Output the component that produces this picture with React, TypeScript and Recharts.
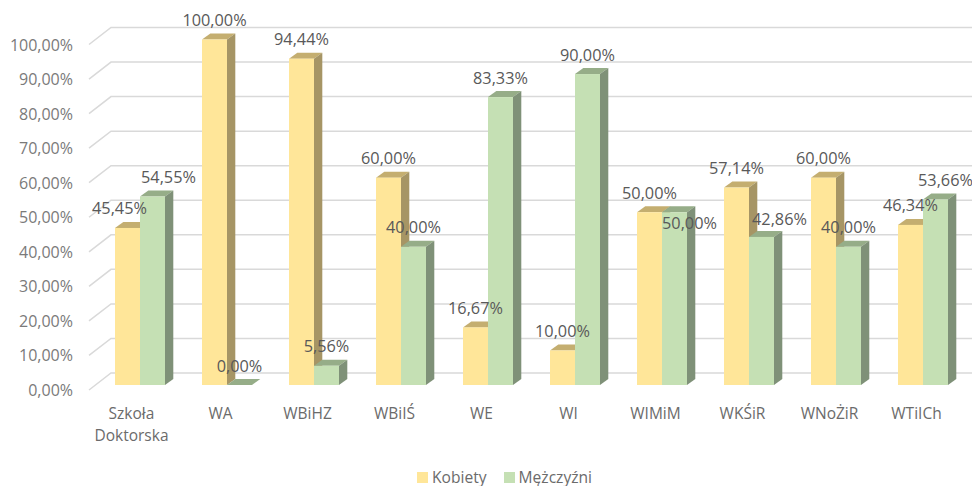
import React from 'react';
import { BarChart, Bar, XAxis, YAxis, CartesianGrid, Legend, LabelList } from 'recharts';

const categories = ['Szkoła Doktorska', 'WA', 'WBiHZ', 'WBiIŚ', 'WE', 'WI', 'WIMiM', 'WKŚiR', 'WNoŻiR', 'WTiICh'];
const kobiety = [45.45, 100, 94.44, 60, 16.67, 10, 50, 57.14, 60, 46.34];
const mezczyzni = [54.55, 0, 5.56, 40, 83.33, 90, 50, 42.86, 40, 53.66];
const yTicks = [0, 10, 20, 30, 40, 50, 60, 70, 80, 90, 100];

// excel moved a few labels sideways so they would not collide
const kobietyLabelShift = [[-8, 0], [0, 0], [0, 0], [0, 0], [0, 0], [0, 0], [0, 0], [0, 0], [0, 0], [0, 0]];
const mezczyzniLabelShift = [[16, 0], [0, 0], [0, 0], [0, 0], [0, 0], [0, 0], [15, 30], [18, 2], [0, 0], [10, 0]];

const data = categories.map((name, i) => ({ name, kobiety: kobiety[i], mezczyzni: mezczyzni[i] }));

const FONT = '"Open Sans", sans-serif';
const DEPTH_X = 8.3;
const DEPTH_Y = 6;

const fmt = (v: number) => v.toFixed(2).replace('.', ',') + '%';

const Bar3D = (props: any) => {
  const { x, y, width, height, fill, topFill, sideFill } = props;
  const r = x + width;
  const b = y + height;
  return (
    <g>
      <polygon points={`${x},${y} ${x + DEPTH_X},${y - DEPTH_Y} ${r + DEPTH_X},${y - DEPTH_Y} ${r},${y}`} fill={topFill} />
      <polygon points={`${r},${y} ${r + DEPTH_X},${y - DEPTH_Y} ${r + DEPTH_X},${b - DEPTH_Y} ${r},${b}`} fill={sideFill} />
      <rect x={x} y={y} width={width} height={height} fill={fill} />
    </g>
  );
};

const gridLine = (props: any) => {
  const { x1, x2, y1, key } = props;
  return (
    <polyline
      key={key}
      points={`${x1 - 7},${y1 + 5} ${x1 + 15},${y1 - 12} ${x2 + 6},${y1 - 12}`}
      fill="none"
      stroke="#d9d9d9"
      strokeWidth={1.5}
    />
  );
};

const YTick = ({ y, payload }: any) => (
  <text x={73} y={y + 5} textAnchor="end" dominantBaseline="central" fontFamily={FONT} fontSize={16} fill="#7a7a7a">
    {fmt(payload.value)}
  </text>
);

const XTick = ({ x, payload, index }: any) => {
  const words = String(payload.value).split(' ');
  const nudge = index === 0 ? -8 : -6;
  return (
    <text textAnchor="middle" fontFamily={FONT} fontSize={15.5} fill="#6b6b6b">
      {words.map((w, i) => (
        <tspan key={w} x={x + nudge} y={413 + i * 22} dominantBaseline="central">
          {w}
        </tspan>
      ))}
    </text>
  );
};

const barLabel = (shifts: number[][]) => (props: any) => {
  const { x, y, width, value, index } = props;
  const [dx, dy] = shifts[index];
  return (
    <text
      x={x + width / 2 + dx}
      y={y - 19.5 + dy}
      textAnchor="middle"
      dominantBaseline="central"
      fontFamily={FONT}
      fontSize={16.3}
      fill="#595959"
    >
      {fmt(value)}
    </text>
  );
};

export default function App() {
  return (
    <div style={{ position: 'absolute', left: 0, top: 0, background: '#fff' }}>
      <BarChart
        width={972}
        height={486}
        data={data}
        margin={{ top: 39.5, right: 6, left: 0, bottom: 45 }}
        barSize={25}
        barGap={0}
      >
        <CartesianGrid vertical={false} horizontal={gridLine} />
        <XAxis dataKey="name" axisLine={false} tickLine={false} tick={<XTick />} interval={0} height={40} />
        <YAxis
          domain={[0, 100]}
          ticks={yTicks}
          width={96}
          axisLine={false}
          tickLine={false}
          tick={<YTick />}
          interval={0}
        />
        <Legend
          layout="horizontal"
          iconType="square"
          iconSize={11}
          wrapperStyle={{ position: 'absolute', left: 417, top: 468, width: 200, height: 16, bottom: 'auto', lineHeight: '16px' }}
          align="left"
          formatter={(v: string) => (
            <span style={{ color: '#6b6b6b', fontFamily: FONT, fontSize: 15.6, marginRight: 7, display: 'inline-block', lineHeight: '16px', verticalAlign: 'middle' }}>{v}</span>
          )}
        />
        <Bar
          dataKey="kobiety"
          name="Kobiety"
          fill="#ffe699"
          isAnimationActive={false}
          shape={<Bar3D topFill="#c4ae70" sideFill="#a69565" />}
        >
          <LabelList dataKey="kobiety" content={barLabel(kobietyLabelShift)} />
        </Bar>
        <Bar
          dataKey="mezczyzni"
          name="Mężczyźni"
          fill="#c5e0b4"
          isAnimationActive={false}
          shape={<Bar3D topFill="#96ad88" sideFill="#7f9178" />}
        >
          <LabelList dataKey="mezczyzni" content={barLabel(mezczyzniLabelShift)} />
        </Bar>
      </BarChart>
    </div>
  );
}
